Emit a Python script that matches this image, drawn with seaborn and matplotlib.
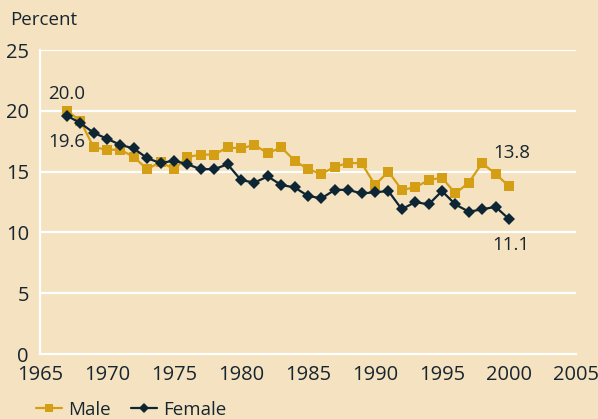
import matplotlib
matplotlib.use("Agg")
import matplotlib.pyplot as plt
import seaborn as sns
import pandas as pd

years = list(range(1967, 2001))
male = [20.0, 19.2, 17.0, 16.8, 16.8, 16.2, 15.2, 15.8, 15.2, 16.2,
        16.4, 16.4, 17.0, 16.9, 17.2, 16.5, 17.0, 15.9, 15.2, 14.8,
        15.4, 15.7, 15.7, 13.9, 15.0, 13.5, 13.7, 14.3, 14.5, 13.2,
        14.1, 15.7, 14.8, 13.8]
female = [19.6, 19.0, 18.2, 17.7, 17.2, 16.9, 16.1, 15.7, 15.9, 15.6,
          15.2, 15.2, 15.6, 14.3, 14.1, 14.6, 13.9, 13.7, 13.0, 12.8,
          13.5, 13.5, 13.2, 13.3, 13.4, 11.9, 12.5, 12.3, 13.4, 12.3,
          11.7, 11.9, 12.1, 11.1]
x_ticks = [1965, 1970, 1975, 1980, 1985, 1990, 1995, 2000, 2005]
y_ticks = [0, 5, 10, 15, 20, 25]

BG = "#F4E2C1"
GOLD = "#D49F14"
NAVY = "#0E2533"
TXT = "#17262F"
FS = 14.5

sns.set_theme(style="white")
plt.rcParams['font.family'] = ['Open Sans', 'DejaVu Sans']

df = pd.DataFrame({"Year": years, "Male": male, "Female": female})

fig = plt.figure(figsize=(5.98, 4.19), dpi=100, facecolor=BG)
ax = fig.add_axes([40/598, 1-354/419, (576-40)/598, (354-50)/419])
ax.set_facecolor(BG)

for y in y_ticks[1:]:
    ax.axhline(y, color="white", lw=1.6, zorder=0)

sns.lineplot(data=df, x="Year", y="Male", ax=ax, color=GOLD, marker="s",
             markersize=7.2, markeredgewidth=0, lw=1.6, label="Male", legend=False, zorder=3)
sns.lineplot(data=df, x="Year", y="Female", ax=ax, color=NAVY, marker="D",
             markersize=6.0, markeredgewidth=0, lw=1.6, label="Female", legend=False, zorder=4)

ax.set_xlim(1965, 2005)
ax.set_ylim(0, 25)
ax.set_xticks(x_ticks)
ax.set_yticks(y_ticks)
ax.set_xlabel("")
ax.set_ylabel("")
for s in ["top", "right"]:
    ax.spines[s].set_visible(False)
for s in ["left", "bottom"]:
    ax.spines[s].set_color("white")
    ax.spines[s].set_linewidth(1.6)
ax.tick_params(axis="x", direction="out", length=3, width=1.6, color="white",
               labelsize=FS, labelcolor=TXT, pad=5)
ax.tick_params(axis="y", direction="out", length=4, width=1.6, color="white",
               labelsize=FS, labelcolor=TXT, pad=4)

ann = dict(fontsize=FS - 1, color=TXT, ha="center", va="center",
           textcoords="offset points")
ax.annotate("20.0", xy=(years[0], male[0]), xytext=(0, 12), **ann)
ax.annotate("19.6", xy=(years[0], female[0]), xytext=(0, -19), **ann)
ax.annotate("13.8", xy=(years[-1], male[-1]), xytext=(2, 24), **ann)
ax.annotate("11.1", xy=(years[-1], female[-1]), xytext=(1, -19), **ann)

fig.text(10/598, 1-20/419, "Percent", fontsize=FS - 1, color=TXT, ha="left", va="center")

handles, labels = ax.get_legend_handles_labels()
leg = fig.legend(handles, labels, loc="center left", bbox_to_anchor=(36/598, 9/419),
                 ncol=2, frameon=False, fontsize=FS - 1, handlelength=1.4,
                 handletextpad=0.3, columnspacing=1.1, borderpad=0, borderaxespad=0,
                 markerscale=0.85, labelcolor=TXT)

fig.savefig("out.png", dpi=100, facecolor=BG)
